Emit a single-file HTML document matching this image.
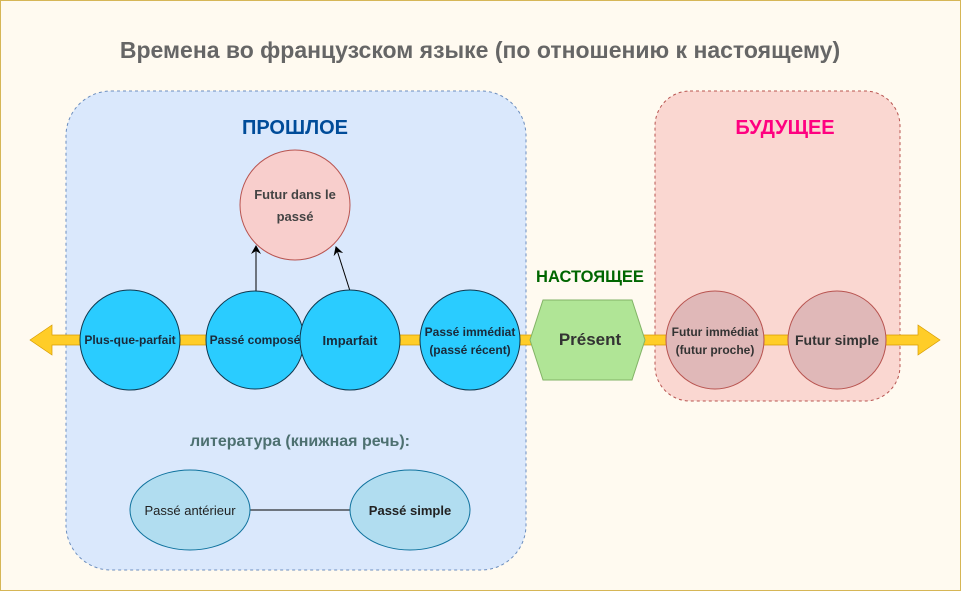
<!DOCTYPE html>
<html><head><meta charset="utf-8"><style>
html,body{margin:0;padding:0;background:#fffaf0}
svg{display:block}
text{font-family:"Liberation Sans",Arial,sans-serif}
</style></head><body>
<svg width="961" height="591" viewBox="0 0 961 591" xmlns="http://www.w3.org/2000/svg">
<defs><marker id="ah" markerWidth="10" markerHeight="10" refX="8" refY="5" orient="auto" markerUnits="userSpaceOnUse"><path d="M0,0 L9,5 L0,10 L3,5 Z" fill="#000"/></marker></defs>
<rect x="0.5" y="0.5" width="960" height="590" fill="#fffaf0" stroke="#d6b656"/>
<text x="480" y="58" text-anchor="middle" font-size="23" font-weight="bold" fill="#666">Времена во французском языке (по отношению к настоящему)</text>
<rect x="66" y="91" width="460" height="479" rx="45" fill="#dae8fc" stroke="#6c8ebf" stroke-dasharray="3,3"/>
<rect x="655" y="91" width="245" height="310" rx="35" fill="#fad7d1" stroke="#b85450" stroke-dasharray="3,3"/>
<text x="295" y="134" text-anchor="middle" font-size="20" font-weight="bold" fill="#004c99">ПРОШЛОЕ</text>
<text x="785" y="134" text-anchor="middle" font-size="20" font-weight="bold" fill="#ff0080">БУДУЩЕЕ</text>
<text x="590" y="282" text-anchor="middle" font-size="16.5" font-weight="bold" fill="#006600">НАСТОЯЩЕЕ</text>
<path d="M30,340 L52,325 L52,335 L918,335 L918,325 L940,340 L918,355 L918,345 L52,345 L52,355 Z" fill="#ffcd28" stroke="#d79b00" stroke-width="0.7"/>
<circle cx="295" cy="205" r="55" fill="#f8cecc" stroke="#b85450"/>
<text x="295" y="199" text-anchor="middle" font-size="13" font-weight="bold" fill="#444">Futur dans le</text>
<text x="295" y="221" text-anchor="middle" font-size="13" font-weight="bold" fill="#444">passé</text>
<line x1="256" y1="292" x2="256" y2="246" stroke="#000" marker-end="url(#ah)"/>
<line x1="350" y1="291" x2="336" y2="247" stroke="#000" marker-end="url(#ah)"/>
<g stroke="#10384f" fill="#2accff">
<circle cx="130" cy="340" r="50"/>
<circle cx="255" cy="340" r="49"/>
<circle cx="350" cy="340" r="50"/>
<circle cx="470" cy="340" r="50"/>
</g>
<g font-size="12" font-weight="bold" fill="#1a2a3a" text-anchor="middle">
<text x="130" y="344">Plus-que-parfait</text>
<text x="255" y="344">Passé composé</text>
<text x="350" y="345" font-size="13">Imparfait</text>
<text x="470" y="336">Passé immédiat</text>
<text x="470" y="354">(passé récent)</text>
</g>
<polygon points="543,300 632,300 645,340 632,380 543,380 530,340" fill="#b0e596" stroke="#82b366"/>
<text x="590" y="345" text-anchor="middle" font-size="17" font-weight="bold" fill="#333">Présent</text>
<g stroke="#b85450" fill="#e0b8b8">
<circle cx="715" cy="340" r="49"/>
<circle cx="837" cy="340" r="49"/>
</g>
<text x="715" y="336" text-anchor="middle" font-size="12" font-weight="bold" fill="#333">Futur immédiat</text>
<text x="715" y="354" text-anchor="middle" font-size="12" font-weight="bold" fill="#333">(futur proche)</text>
<text x="837" y="345" text-anchor="middle" font-size="14" font-weight="bold" fill="#333">Futur simple</text>
<text x="300" y="446" text-anchor="middle" font-size="16" font-weight="bold" fill="#4d7070">литература (книжная речь):</text>
<line x1="250" y1="510" x2="350" y2="510" stroke="#000"/>
<ellipse cx="190" cy="510" rx="60" ry="40" fill="#b1ddf0" stroke="#10739e"/>
<ellipse cx="410" cy="510" rx="60" ry="40" fill="#b1ddf0" stroke="#10739e"/>
<text x="190" y="515" text-anchor="middle" font-size="13" fill="#222">Passé antérieur</text>
<text x="410" y="515" text-anchor="middle" font-size="13" font-weight="bold" fill="#222">Passé simple</text>
</svg>
</body></html>
